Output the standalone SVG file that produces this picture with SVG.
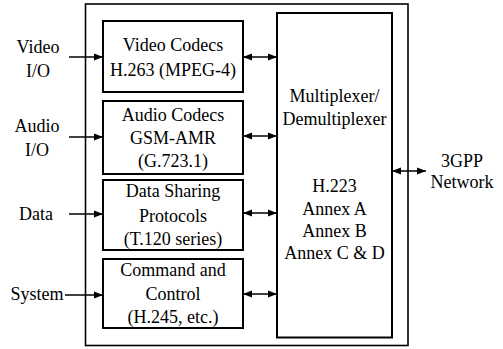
<svg xmlns="http://www.w3.org/2000/svg" width="503" height="349" viewBox="0 0 503 349">
  <defs>
    <marker id="head" viewBox="0 0 9 8" refX="9" refY="4" markerWidth="9" markerHeight="8" markerUnits="userSpaceOnUse" orient="auto-start-reverse">
      <path d="M0,0.5 L9,4 L0,7.5 Z" fill="#000"/>
    </marker>
  </defs>
  <rect width="503" height="349" fill="#fff"/>

  <!-- terminal outline -->
  <rect id="terminal" x="85.5" y="4" width="322.5" height="341.5" fill="none" stroke="#000" stroke-width="1.6"/>

  <g id="video">
    <rect x="103" y="21" width="140" height="71" fill="none" stroke="#000" stroke-width="2"/>
    <text style="font-family: 'Liberation Serif'; font-size: 18px" text-anchor="middle" x="173" y="51">Video Codecs</text>
    <text style="font-family: 'Liberation Serif'; font-size: 18px" text-anchor="middle" x="173" y="76">H.263 (MPEG-4)</text>
  </g>
  <g id="audio">
    <rect x="103" y="101" width="140" height="73" fill="none" stroke="#000" stroke-width="2"/>
    <text style="font-family: 'Liberation Serif'; font-size: 18px" text-anchor="middle" x="173" y="121">Audio Codecs</text>
    <text style="font-family: 'Liberation Serif'; font-size: 18px" text-anchor="middle" x="173" y="144">GSM-AMR</text>
    <text style="font-family: 'Liberation Serif'; font-size: 18px" text-anchor="middle" x="173" y="167">(G.723.1)</text>
  </g>
  <g id="data">
    <rect x="103" y="180" width="140" height="70" fill="none" stroke="#000" stroke-width="2"/>
    <text style="font-family: 'Liberation Serif'; font-size: 18px" text-anchor="middle" x="173" y="197">Data Sharing</text>
    <text style="font-family: 'Liberation Serif'; font-size: 18px" text-anchor="middle" x="173" y="222">Protocols</text>
    <text style="font-family: 'Liberation Serif'; font-size: 18px" text-anchor="middle" x="173" y="245">(T.120 series)</text>
  </g>
  <g id="control">
    <rect x="103" y="259" width="140" height="69" fill="none" stroke="#000" stroke-width="2"/>
    <text style="font-family: 'Liberation Serif'; font-size: 18px" text-anchor="middle" x="173" y="276">Command and</text>
    <text style="font-family: 'Liberation Serif'; font-size: 18px" text-anchor="middle" x="173" y="300">Control</text>
    <text style="font-family: 'Liberation Serif'; font-size: 18px" text-anchor="middle" x="173" y="323">(H.245, etc.)</text>
  </g>
  <g id="mux">
    <rect x="277" y="13" width="115" height="324.5" fill="none" stroke="#000" stroke-width="2"/>
    <text style="font-family: 'Liberation Serif'; font-size: 18px" text-anchor="middle" x="334.5" y="102">Multiplexer/</text>
    <text style="font-family: 'Liberation Serif'; font-size: 18px" text-anchor="middle" x="334.5" y="125">Demultiplexer</text>
    <text style="font-family: 'Liberation Serif'; font-size: 18px" text-anchor="middle" x="334.5" y="192">H.223</text>
    <text style="font-family: 'Liberation Serif'; font-size: 18px" text-anchor="middle" x="334.5" y="215">Annex A</text>
    <text style="font-family: 'Liberation Serif'; font-size: 18px" text-anchor="middle" x="334.5" y="237">Annex B</text>
    <text style="font-family: 'Liberation Serif'; font-size: 18px" text-anchor="middle" x="334.5" y="259">Annex C &amp; D</text>
  </g>

  <g id="labels">
    <text style="font-family: 'Liberation Serif'; font-size: 18px" text-anchor="middle" x="38" y="53">Video</text>
    <text style="font-family: 'Liberation Serif'; font-size: 18px" text-anchor="middle" x="38" y="77">I/O</text>
    <text style="font-family: 'Liberation Serif'; font-size: 18px" text-anchor="middle" x="37" y="132">Audio</text>
    <text style="font-family: 'Liberation Serif'; font-size: 18px" text-anchor="middle" x="37" y="156">I/O</text>
    <text style="font-family: 'Liberation Serif'; font-size: 18px" text-anchor="middle" x="36" y="220">Data</text>
    <text style="font-family: 'Liberation Serif'; font-size: 18px" text-anchor="middle" x="37" y="300">System</text>
    <text style="font-family: 'Liberation Serif'; font-size: 18px" text-anchor="middle" x="462" y="167">3GPP</text>
    <text style="font-family: 'Liberation Serif'; font-size: 18px" text-anchor="middle" x="462" y="188">Network</text>
  </g>

  <g id="connectors" stroke="#000" stroke-width="1.6">
    <line x1="69" y1="57" x2="103" y2="57" marker-end="url(#head)"/>
    <line x1="69" y1="137" x2="103" y2="137" marker-end="url(#head)"/>
    <line x1="69" y1="214" x2="103" y2="214" marker-end="url(#head)"/>
    <line x1="65" y1="295" x2="103" y2="295" marker-end="url(#head)"/>

    <line x1="243" y1="57" x2="277" y2="57" marker-start="url(#head)" marker-end="url(#head)"/>
    <line x1="243" y1="136" x2="277" y2="136" marker-start="url(#head)" marker-end="url(#head)"/>
    <line x1="243" y1="213" x2="277" y2="213" marker-start="url(#head)" marker-end="url(#head)"/>
    <line x1="243" y1="294" x2="277" y2="294" marker-start="url(#head)" marker-end="url(#head)"/>

    <line x1="392" y1="171" x2="426" y2="171" marker-start="url(#head)" marker-end="url(#head)"/>
  </g>
</svg>
